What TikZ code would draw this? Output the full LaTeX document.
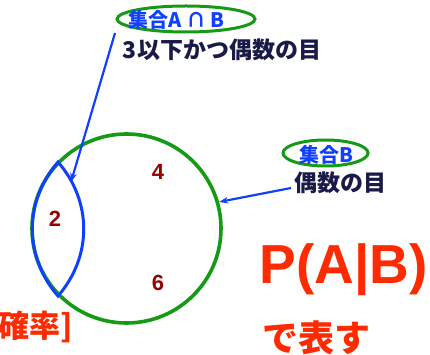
\documentclass[tikz,border=0pt]{standalone}
\usepackage{fontspec}
\setmainfont{Liberation Sans}
\newfontfamily\jp{Noto Sans CJK JP}
\usetikzlibrary{arrows.meta,shapes.geometric}
\definecolor{cgreen}{HTML}{159A15}
\definecolor{cblue}{HTML}{1040FF}
\definecolor{cnavy}{HTML}{1A1A48}
\definecolor{cdred}{HTML}{990000}
\definecolor{cred}{HTML}{FF2A00}
\begin{document}
\begin{tikzpicture}[x=1pt,y=-1pt,
  ring/.style={draw=cgreen,line width=3pt,ellipse,inner sep=0pt},
  ptr/.style={draw=cblue,line width=2.2pt,-{Stealth[length=9pt,width=6.5pt]}},
  num/.style={text=cdred,inner sep=0pt,font=\bfseries\fontsize{22}{24}\selectfont},
  setlbl/.style={text=cblue,inner sep=0pt,font=\jp\bfseries\fontsize{20}{22}\selectfont},
  desc/.style={text=cnavy,inner sep=0pt,font=\jp\bfseries\fontsize{23}{25}\selectfont},
  redtxt/.style={text=cred,inner sep=0pt}]
\useasboundingbox (0,0) rectangle (430,355);
% set B circle
\node (circB) [draw=cgreen,line width=3.6pt,circle,minimum size=189pt,inner sep=0pt] at (126.5,228.5) {};
% lens A cap B
\coordinate (lt) at (58,162);
\coordinate (lb) at (58,296);
\draw[cblue,line width=3pt,line join=miter] (lt) to[bend left=41] (lb) to[bend left=41] cycle;
% numbers
\node (n4) [num] at (158,172) {4};
\node (n2) [num] at (55,219) {2};
\node (n6) [num] at (158,283) {6};
% labels top
\node (ringAB) [ring,minimum width=138pt,minimum height=26pt] at (186,19) {};
\node (lblAB) [setlbl] at (176.5,20) {集合A ∩ B};
\node (descAB) [desc] at (222,50) {3以下かつ偶数の目};
% labels right
\node (ringB) [ring,minimum width=85pt,minimum height=26pt] at (325.5,153) {};
\node (lblB) [setlbl] at (326,155) {集合B};
\node (descB) [desc] at (340,183) {偶数の目};
% arrows
\coordinate (srcA) at (115,33);
\coordinate (ptA) at (71,182);
\draw[ptr] (srcA) -- (ptA);
\coordinate (srcB) at (291,188);
\draw[ptr] (srcB) -- (circB.16);
% red texts
\node (pab) [redtxt,font=\bfseries\fontsize{55}{60}\selectfont] at (343.5,270) {P(A|B)};
\node (dehyo) [redtxt,font=\jp\bfseries\fontsize{36}{40}\selectfont] at (316.5,338) {で表す};
\node (kakuritsu) [redtxt,anchor=east,font=\jp\bfseries\fontsize{31}{34}\selectfont] at (73,327) {確率]};
\end{tikzpicture}
\end{document}
